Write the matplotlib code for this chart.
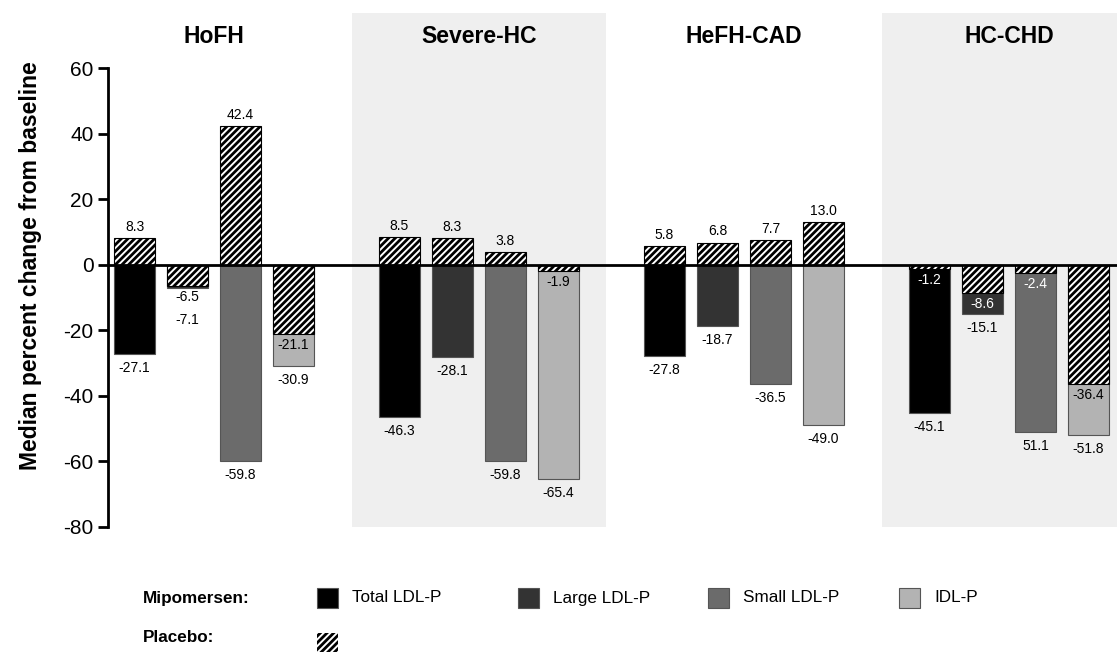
import matplotlib
matplotlib.use("Agg")
import matplotlib.pyplot as plt
from matplotlib.patches import Rectangle

plt.rcParams['font.family'] = ['Liberation Sans', 'DejaVu Sans']
plt.rcParams['hatch.linewidth'] = 2.0
plt.rcParams['axes.unicode_minus'] = False

groups = ['HoFH', 'Severe-HC', 'HeFH-CAD', 'HC-CHD']
measures = ['Total LDL-P', 'Large LDL-P', 'Small LDL-P', 'IDL-P']
colors = ['#000000', '#333333', '#6b6b6b', '#b3b3b3']

mipomersen = [
    [-27.1, -7.1, -59.8, -30.9],
    [-46.3, -28.1, -59.8, -65.4],
    [-27.8, -18.7, -36.5, -49.0],
    [-45.1, -15.1, -51.1, -51.8],
]
mipomersen_labels = [
    ['-27.1', '-7.1', '-59.8', '-30.9'],
    ['-46.3', '-28.1', '-59.8', '-65.4'],
    ['-27.8', '-18.7', '-36.5', '-49.0'],
    ['-45.1', '-15.1', '51.1', '-51.8'],
]
placebo = [
    [8.3, -6.5, 42.4, -21.1],
    [8.5, 8.3, 3.8, -1.9],
    [5.8, 6.8, 7.7, 13.0],
    [-1.2, -8.6, -2.4, -36.4],
]

fig = plt.figure(figsize=(11.17, 6.53), dpi=100)
ax = fig.add_axes([0.0967, 0.193, 0.9033, 0.787])

step = 5
width = 0.77
hatch = '/////'
for g, name in enumerate(groups):
    if g % 2 == 1:
        ax.axvspan(g * step - 0.9, g * step + 3.9, color='#efefef', zorder=0, lw=0)
    ax.text(g * step + 1.5, 69.6, name, ha='center', va='center',
            fontsize=16.5, fontweight='bold')
    for i in range(4):
        x = g * step + i
        m = mipomersen[g][i]
        p = placebo[g][i]
        ax.bar(x, m, width, color=colors[i], edgecolor='#555555', lw=0.8, zorder=2)
        ax.bar(x, p, width, color='white', edgecolor='black', hatch=hatch,
               lw=0.8, zorder=3)
        # placebo label
        if p >= 0:
            ax.annotate(f'{p:.1f}', (x, p), xytext=(0, 3), textcoords='offset points',
                        ha='center', va='bottom', fontsize=10)
        else:
            inside = m < p - 4
            tc = 'white' if inside and i < 3 else 'black'
            ax.annotate(f'{p:.1f}', (x, p), xytext=(0, -3), textcoords='offset points',
                        ha='center', va='top', fontsize=10, color=tc, zorder=5)
        # mipomersen label
        off = -5
        if p < 0 and m > p - 4:
            off = -18
        ax.annotate(mipomersen_labels[g][i], (x, m), xytext=(0, off),
                    textcoords='offset points', ha='center', va='top', fontsize=10)

ax.axhline(0, color='black', lw=2, zorder=4)
ax.set_xlim(-0.5, 18.54)
ax.set_ylim(-80, 76.9)
ax.set_yticks(range(-80, 61, 20))
ax.tick_params(axis='y', labelsize=15, width=2, length=7, direction='out')
ax.set_xticks([])
for s in ['top', 'right', 'bottom']:
    ax.spines[s].set_visible(False)
ax.spines['left'].set_linewidth(2)
ax.spines['left'].set_bounds(-80, 60)
ax.patch.set_alpha(0)

fig.text(0.027, 0.593, 'Median percent change from baseline', rotation=90,
         ha='center', va='center', fontsize=16.5, fontweight='bold')

# legend
W, H = 1117.0, 653.0
fig.text(143 / W, 1 - 598 / H, 'Mipomersen:', fontsize=12.3, fontweight='bold',
         ha='left', va='center')
fig.text(143 / W, 1 - 638 / H, 'Placebo:', fontsize=12.3, fontweight='bold',
         ha='left', va='center')
sq_x = [317, 518, 708, 899]
for i, lab in enumerate(measures):
    fig.patches.append(Rectangle((sq_x[i] / W, 1 - 608 / H), 21 / W, 20 / H,
                                 transform=fig.transFigure, facecolor=colors[i],
                                 edgecolor='#555555', lw=0.8))
    fig.text((sq_x[i] + 35) / W, 1 - 598 / H, lab, fontsize=12.3,
             ha='left', va='center')
fig.patches.append(Rectangle((317 / W, 1 - 652 / H), 21 / W, 19 / H,
                             transform=fig.transFigure, facecolor='white',
                             edgecolor='black', lw=0, hatch=hatch))

fig.savefig('out.png', dpi=100)
